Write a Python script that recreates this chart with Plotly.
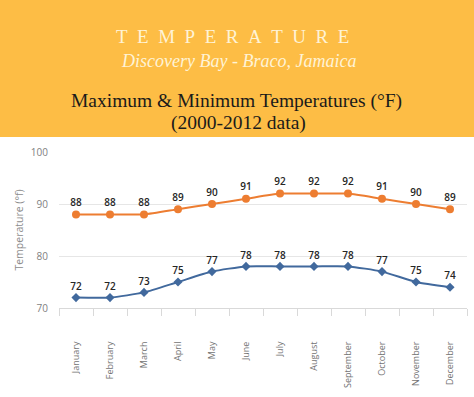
import plotly.graph_objects as go

months = ["January", "February", "March", "April", "May", "June", "July",
          "August", "September", "October", "November", "December"]
max_temps = [88, 88, 88, 89, 90, 91, 92, 92, 92, 91, 90, 89]
min_temps = [72, 72, 73, 75, 77, 78, 78, 78, 78, 77, 75, 74]
y_ticks = [70, 80, 90, 100]

W, H = 474, 397
L, R, T, B = 59, 7, 152, 89
PW, PH = W - L - R, H - T - B

def py(ypx):
    return (H - B - ypx) / PH

def px(xpx):
    return (xpx - L) / PW

label_font = dict(family="Open Sans", size=10, color="#262626", weight=600)

fig = go.Figure()
fig.add_trace(go.Scatter(
    x=months, y=max_temps, mode="lines+markers+text",
    line=dict(color="#ED7D31", width=2, shape="spline", smoothing=0.6),
    marker=dict(symbol="circle", size=8, color="#ED7D31"),
    text=[str(v) for v in max_temps], textposition="top center",
    textfont=label_font, cliponaxis=False, showlegend=False))
fig.add_trace(go.Scatter(
    x=months, y=min_temps, mode="lines+markers+text",
    line=dict(color="#41699D", width=2, shape="spline", smoothing=0.6),
    marker=dict(symbol="diamond", size=7, color="#41699D"),
    text=[str(v) for v in min_temps], textposition="top center",
    textfont=label_font, cliponaxis=False, showlegend=False))

fig.add_shape(type="rect", xref="paper", yref="paper",
              x0=px(0), x1=px(W), y0=py(137), y1=py(0),
              fillcolor="#FDBD45", line=dict(width=0), layer="below")

def header(text, x, y, size, color):
    fig.add_annotation(text=text, xref="paper", yref="paper",
                       x=px(x), y=py(y), xanchor="center", yanchor="middle",
                       showarrow=False,
                       font=dict(family="Liberation Serif", size=size, color=color))

header("\u2002".join("TEMPERATURE"), 232, 36, 19, "#FFF3D6")
header("<i>Discovery Bay - Braco, Jamaica</i>", 238, 61, 18, "#FFF3D6")
header("Maximum & Minimum Temperatures (°F)", 236, 101, 19.5, "#1A1A1A")
header("(2000-2012 data)", 238, 123, 19.5, "#1A1A1A")

fig.update_layout(
    width=W, height=H,
    margin=dict(l=L, r=R, t=T, b=B),
    paper_bgcolor="white", plot_bgcolor="white",
    xaxis=dict(type="category", range=[-0.5, 11.5], tickangle=-90,
               tickfont=dict(family="Open Sans", size=9, color="#737373"),
               showgrid=False, showline=True, linecolor="#D9D9D9", linewidth=1,
               ticks="outside", tickson="boundaries", ticklen=7, tickcolor="#D9D9D9",
               ticklabelstandoff=29, zeroline=False),
    yaxis=dict(range=[70, 100], tickvals=y_ticks,
               tickfont=dict(family="Open Sans", size=10, color="#7F7F7F"),
               showgrid=True, gridcolor="#E6E6E6", gridwidth=1, zeroline=False,
               title=dict(text="Temperature (°f)", standoff=5,
                          font=dict(family="Open Sans", size=10.5, color="#8C8C8C")),
               ticks="", ticklabelstandoff=10),
)

fig.write_html("out.html", config={"displayModeBar": False},
               post_script="document.body.style.margin='0px';")
